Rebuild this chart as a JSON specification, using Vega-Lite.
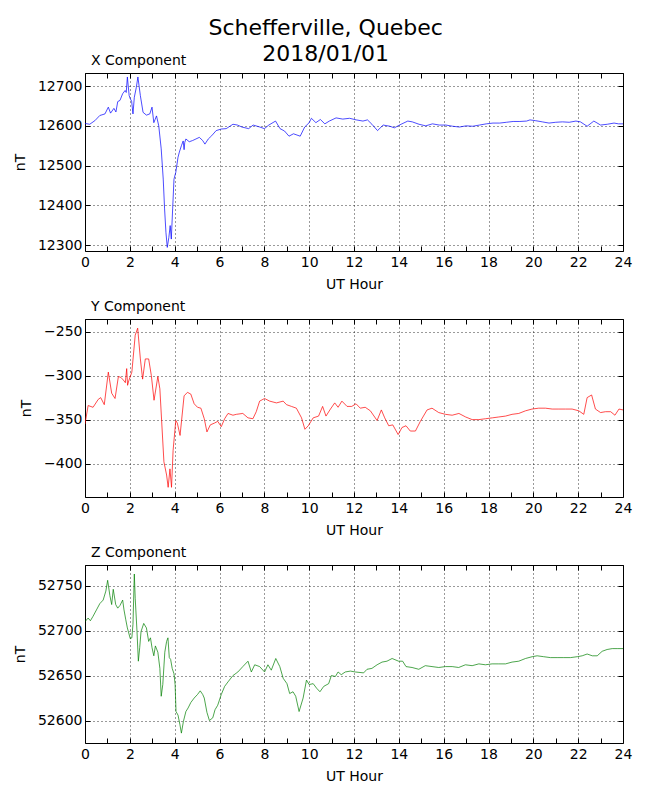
{
  "$schema": "https://vega.github.io/schema/vega-lite/v6.json",
  "padding": {"left": 12, "top": 17, "right": 10, "bottom": 5},
  "background": "white",
  "spacing": 7,
  "title": {
    "text": ["Schefferville, Quebec", "2018/01/01"],
    "fontSize": 22,
    "fontWeight": "normal",
    "lineHeight": 26,
    "anchor": "middle",
    "frame": "bounds",
    "dx": 3,
    "offset": -13,
    "color": "black"
  },
  "config": {
    "font": "DejaVu Sans",
    "view": {"stroke": "black", "strokeWidth": 1},
    "axis": {
      "labelFontSize": 14,
      "titleFontSize": 14,
      "titleFontWeight": "normal",
      "labelColor": "black",
      "titleColor": "black",
      "tickColor": "black",
      "tickSize": -5,
      "tickWidth": 1,
      "domain": false,
      "gridColor": "black",
      "gridDash": [1, 3],
      "gridWidth": 0.8,
      "labelFlush": false
    },
    "title": {"fontSize": 14, "fontWeight": "normal", "anchor": "start", "frame": "group", "dx": 6, "offset": 5, "color": "black"}
  },
  "datasets": {
    "xc": [
      {"h": 0, "v": 12606}, {"h": 0.21, "v": 12604}, {"h": 0.44, "v": 12613}, {"h": 0.66, "v": 12626},
      {"h": 0.89, "v": 12630}, {"h": 1.04, "v": 12647}, {"h": 1.14, "v": 12632}, {"h": 1.29, "v": 12644},
      {"h": 1.38, "v": 12635}, {"h": 1.46, "v": 12661}, {"h": 1.56, "v": 12664}, {"h": 1.68, "v": 12681},
      {"h": 1.79, "v": 12689}, {"h": 1.84, "v": 12684}, {"h": 1.89, "v": 12723}, {"h": 1.97, "v": 12676},
      {"h": 2.02, "v": 12668}, {"h": 2.08, "v": 12662}, {"h": 2.14, "v": 12630}, {"h": 2.2, "v": 12672},
      {"h": 2.29, "v": 12697}, {"h": 2.36, "v": 12723}, {"h": 2.47, "v": 12676}, {"h": 2.59, "v": 12634},
      {"h": 2.74, "v": 12627}, {"h": 2.89, "v": 12630}, {"h": 2.99, "v": 12647}, {"h": 3.07, "v": 12608},
      {"h": 3.19, "v": 12625}, {"h": 3.29, "v": 12600}, {"h": 3.4, "v": 12542}, {"h": 3.49, "v": 12466},
      {"h": 3.55, "v": 12391}, {"h": 3.61, "v": 12332}, {"h": 3.67, "v": 12294}, {"h": 3.74, "v": 12319},
      {"h": 3.8, "v": 12349}, {"h": 3.85, "v": 12315}, {"h": 3.91, "v": 12391}, {"h": 3.97, "v": 12466},
      {"h": 4.05, "v": 12483}, {"h": 4.15, "v": 12521}, {"h": 4.21, "v": 12534}, {"h": 4.3, "v": 12550},
      {"h": 4.38, "v": 12562}, {"h": 4.42, "v": 12540}, {"h": 4.45, "v": 12558}, {"h": 4.5, "v": 12567},
      {"h": 4.65, "v": 12560}, {"h": 4.8, "v": 12563}, {"h": 4.95, "v": 12567}, {"h": 5.1, "v": 12571},
      {"h": 5.25, "v": 12563}, {"h": 5.35, "v": 12554}, {"h": 5.5, "v": 12567}, {"h": 5.65, "v": 12575},
      {"h": 5.85, "v": 12588}, {"h": 6.08, "v": 12592}, {"h": 6.3, "v": 12593}, {"h": 6.6, "v": 12604},
      {"h": 6.8, "v": 12602}, {"h": 7.0, "v": 12597}, {"h": 7.3, "v": 12593}, {"h": 7.5, "v": 12602},
      {"h": 7.8, "v": 12597}, {"h": 8.0, "v": 12593}, {"h": 8.2, "v": 12602}, {"h": 8.5, "v": 12612},
      {"h": 8.7, "v": 12593}, {"h": 8.9, "v": 12587}, {"h": 9.1, "v": 12574}, {"h": 9.3, "v": 12580},
      {"h": 9.6, "v": 12574}, {"h": 9.8, "v": 12597}, {"h": 10.0, "v": 12608}, {"h": 10.1, "v": 12619},
      {"h": 10.3, "v": 12608}, {"h": 10.5, "v": 12616}, {"h": 10.7, "v": 12605}, {"h": 10.9, "v": 12612},
      {"h": 11.2, "v": 12620}, {"h": 11.5, "v": 12617}, {"h": 11.8, "v": 12619}, {"h": 12.1, "v": 12615},
      {"h": 12.4, "v": 12612}, {"h": 12.6, "v": 12615}, {"h": 12.8, "v": 12604}, {"h": 13.05, "v": 12588},
      {"h": 13.3, "v": 12602}, {"h": 13.6, "v": 12599}, {"h": 13.8, "v": 12595}, {"h": 14.1, "v": 12604},
      {"h": 14.4, "v": 12612}, {"h": 14.6, "v": 12610}, {"h": 14.9, "v": 12604}, {"h": 15.2, "v": 12600},
      {"h": 15.5, "v": 12605}, {"h": 15.8, "v": 12602}, {"h": 16.1, "v": 12602}, {"h": 16.4, "v": 12599},
      {"h": 16.7, "v": 12597}, {"h": 17.0, "v": 12600}, {"h": 17.3, "v": 12599}, {"h": 17.6, "v": 12602},
      {"h": 17.9, "v": 12605}, {"h": 18.2, "v": 12607}, {"h": 18.5, "v": 12607}, {"h": 18.8, "v": 12609},
      {"h": 19.1, "v": 12611}, {"h": 19.4, "v": 12611}, {"h": 19.7, "v": 12612}, {"h": 19.85, "v": 12615},
      {"h": 20.1, "v": 12613}, {"h": 20.4, "v": 12610}, {"h": 20.7, "v": 12607}, {"h": 21.0, "v": 12609},
      {"h": 21.3, "v": 12610}, {"h": 21.6, "v": 12609}, {"h": 21.9, "v": 12612}, {"h": 22.1, "v": 12610},
      {"h": 22.4, "v": 12599}, {"h": 22.7, "v": 12612}, {"h": 23.0, "v": 12602}, {"h": 23.3, "v": 12604},
      {"h": 23.6, "v": 12607}, {"h": 23.8, "v": 12605}, {"h": 24.0, "v": 12605}
    ],
    "yc": [
      {"h": 0, "v": -355}, {"h": 0.14, "v": -334}, {"h": 0.36, "v": -336}, {"h": 0.59, "v": -327},
      {"h": 0.7, "v": -325}, {"h": 0.86, "v": -333}, {"h": 1.04, "v": -296}, {"h": 1.19, "v": -320},
      {"h": 1.34, "v": -326}, {"h": 1.49, "v": -301}, {"h": 1.6, "v": -302}, {"h": 1.71, "v": -305},
      {"h": 1.8, "v": -308}, {"h": 1.86, "v": -292}, {"h": 1.9, "v": -311}, {"h": 1.95, "v": -306},
      {"h": 2.09, "v": -296}, {"h": 2.24, "v": -254}, {"h": 2.35, "v": -246}, {"h": 2.47, "v": -281},
      {"h": 2.57, "v": -304}, {"h": 2.69, "v": -281}, {"h": 2.84, "v": -281}, {"h": 2.96, "v": -300},
      {"h": 3.08, "v": -328}, {"h": 3.25, "v": -301}, {"h": 3.34, "v": -315}, {"h": 3.52, "v": -398},
      {"h": 3.64, "v": -413}, {"h": 3.71, "v": -427}, {"h": 3.79, "v": -406}, {"h": 3.86, "v": -427},
      {"h": 3.93, "v": -385}, {"h": 4.05, "v": -351}, {"h": 4.12, "v": -354}, {"h": 4.24, "v": -368},
      {"h": 4.42, "v": -323}, {"h": 4.57, "v": -319}, {"h": 4.72, "v": -321}, {"h": 4.87, "v": -332},
      {"h": 5.02, "v": -336}, {"h": 5.17, "v": -337}, {"h": 5.32, "v": -349}, {"h": 5.44, "v": -364},
      {"h": 5.59, "v": -356}, {"h": 5.77, "v": -354}, {"h": 5.92, "v": -352}, {"h": 6.08, "v": -358},
      {"h": 6.23, "v": -349}, {"h": 6.38, "v": -343}, {"h": 6.6, "v": -345}, {"h": 6.75, "v": -344},
      {"h": 7.04, "v": -343}, {"h": 7.27, "v": -348}, {"h": 7.49, "v": -349}, {"h": 7.64, "v": -341},
      {"h": 7.79, "v": -329}, {"h": 8.01, "v": -326}, {"h": 8.24, "v": -329}, {"h": 8.54, "v": -331},
      {"h": 8.84, "v": -329}, {"h": 8.99, "v": -333}, {"h": 9.21, "v": -335}, {"h": 9.43, "v": -337},
      {"h": 9.66, "v": -348}, {"h": 9.81, "v": -361}, {"h": 9.96, "v": -357}, {"h": 10.18, "v": -348},
      {"h": 10.42, "v": -346}, {"h": 10.6, "v": -335}, {"h": 10.75, "v": -346}, {"h": 10.95, "v": -338},
      {"h": 11.14, "v": -331}, {"h": 11.29, "v": -336}, {"h": 11.46, "v": -329}, {"h": 11.69, "v": -335},
      {"h": 11.9, "v": -335}, {"h": 12.09, "v": -332}, {"h": 12.28, "v": -337}, {"h": 12.5, "v": -336},
      {"h": 12.73, "v": -340}, {"h": 13.03, "v": -351}, {"h": 13.22, "v": -339}, {"h": 13.37, "v": -348},
      {"h": 13.55, "v": -357}, {"h": 13.73, "v": -356}, {"h": 13.97, "v": -367}, {"h": 14.14, "v": -359},
      {"h": 14.32, "v": -357}, {"h": 14.51, "v": -363}, {"h": 14.74, "v": -363}, {"h": 14.96, "v": -352},
      {"h": 15.26, "v": -339}, {"h": 15.48, "v": -337}, {"h": 15.78, "v": -342}, {"h": 16.08, "v": -344},
      {"h": 16.38, "v": -345}, {"h": 16.68, "v": -343}, {"h": 16.98, "v": -347}, {"h": 17.27, "v": -350},
      {"h": 17.57, "v": -350}, {"h": 17.87, "v": -349}, {"h": 18.17, "v": -348}, {"h": 18.46, "v": -347},
      {"h": 18.76, "v": -346}, {"h": 19.05, "v": -344}, {"h": 19.35, "v": -343}, {"h": 19.65, "v": -340},
      {"h": 19.94, "v": -338}, {"h": 20.24, "v": -337}, {"h": 20.54, "v": -337}, {"h": 20.84, "v": -338},
      {"h": 21.14, "v": -338}, {"h": 21.43, "v": -338}, {"h": 21.73, "v": -338}, {"h": 22.03, "v": -340},
      {"h": 22.25, "v": -344}, {"h": 22.4, "v": -325}, {"h": 22.6, "v": -322}, {"h": 22.77, "v": -338},
      {"h": 23.0, "v": -342}, {"h": 23.22, "v": -341}, {"h": 23.45, "v": -341}, {"h": 23.64, "v": -345},
      {"h": 23.82, "v": -338}, {"h": 24.0, "v": -339}
    ],
    "zc": [
      {"h": 0, "v": 52710}, {"h": 0.14, "v": 52714}, {"h": 0.24, "v": 52711}, {"h": 0.36, "v": 52716},
      {"h": 0.51, "v": 52723}, {"h": 0.66, "v": 52730}, {"h": 0.81, "v": 52734}, {"h": 0.93, "v": 52744},
      {"h": 1.01, "v": 52756}, {"h": 1.11, "v": 52739}, {"h": 1.19, "v": 52729}, {"h": 1.26, "v": 52746},
      {"h": 1.37, "v": 52729}, {"h": 1.46, "v": 52725}, {"h": 1.56, "v": 52728}, {"h": 1.68, "v": 52734},
      {"h": 1.74, "v": 52723}, {"h": 1.82, "v": 52712}, {"h": 1.89, "v": 52703}, {"h": 2.02, "v": 52691},
      {"h": 2.09, "v": 52692}, {"h": 2.14, "v": 52707}, {"h": 2.2, "v": 52763}, {"h": 2.24, "v": 52736},
      {"h": 2.32, "v": 52699}, {"h": 2.38, "v": 52666}, {"h": 2.44, "v": 52681}, {"h": 2.5, "v": 52699},
      {"h": 2.62, "v": 52708}, {"h": 2.74, "v": 52703}, {"h": 2.84, "v": 52688}, {"h": 2.92, "v": 52692},
      {"h": 2.99, "v": 52681}, {"h": 3.07, "v": 52672}, {"h": 3.14, "v": 52683}, {"h": 3.25, "v": 52676},
      {"h": 3.34, "v": 52658}, {"h": 3.4, "v": 52627}, {"h": 3.47, "v": 52640}, {"h": 3.56, "v": 52676},
      {"h": 3.64, "v": 52688}, {"h": 3.7, "v": 52692}, {"h": 3.76, "v": 52670}, {"h": 3.82, "v": 52668},
      {"h": 3.89, "v": 52658}, {"h": 3.97, "v": 52652}, {"h": 4.02, "v": 52640}, {"h": 4.06, "v": 52610},
      {"h": 4.15, "v": 52606}, {"h": 4.23, "v": 52596}, {"h": 4.3, "v": 52586}, {"h": 4.39, "v": 52599},
      {"h": 4.5, "v": 52610}, {"h": 4.6, "v": 52614}, {"h": 4.72, "v": 52620}, {"h": 4.87, "v": 52625},
      {"h": 5.02, "v": 52629}, {"h": 5.14, "v": 52633}, {"h": 5.25, "v": 52629}, {"h": 5.32, "v": 52625},
      {"h": 5.44, "v": 52609}, {"h": 5.55, "v": 52600}, {"h": 5.7, "v": 52603}, {"h": 5.8, "v": 52612},
      {"h": 5.92, "v": 52617}, {"h": 6.08, "v": 52629}, {"h": 6.23, "v": 52638}, {"h": 6.38, "v": 52643},
      {"h": 6.6, "v": 52650}, {"h": 6.82, "v": 52654}, {"h": 7.04, "v": 52660}, {"h": 7.27, "v": 52666},
      {"h": 7.42, "v": 52654}, {"h": 7.57, "v": 52662}, {"h": 7.79, "v": 52660}, {"h": 8.01, "v": 52654},
      {"h": 8.16, "v": 52662}, {"h": 8.31, "v": 52656}, {"h": 8.51, "v": 52669}, {"h": 8.69, "v": 52660},
      {"h": 8.84, "v": 52647}, {"h": 9.01, "v": 52641}, {"h": 9.13, "v": 52630}, {"h": 9.28, "v": 52632},
      {"h": 9.4, "v": 52627}, {"h": 9.55, "v": 52610}, {"h": 9.73, "v": 52625}, {"h": 9.88, "v": 52645},
      {"h": 10.0, "v": 52640}, {"h": 10.18, "v": 52641}, {"h": 10.33, "v": 52636}, {"h": 10.48, "v": 52632},
      {"h": 10.65, "v": 52638}, {"h": 10.87, "v": 52641}, {"h": 10.99, "v": 52650}, {"h": 11.17, "v": 52649},
      {"h": 11.29, "v": 52654}, {"h": 11.43, "v": 52651}, {"h": 11.61, "v": 52654}, {"h": 11.84, "v": 52655},
      {"h": 12.06, "v": 52654}, {"h": 12.43, "v": 52653}, {"h": 12.58, "v": 52657}, {"h": 12.8, "v": 52658},
      {"h": 13.03, "v": 52662}, {"h": 13.25, "v": 52665}, {"h": 13.47, "v": 52666}, {"h": 13.7, "v": 52669},
      {"h": 13.99, "v": 52666}, {"h": 14.17, "v": 52666}, {"h": 14.32, "v": 52660}, {"h": 14.59, "v": 52659},
      {"h": 14.89, "v": 52657}, {"h": 15.18, "v": 52661}, {"h": 15.48, "v": 52660}, {"h": 15.78, "v": 52659},
      {"h": 16.08, "v": 52660}, {"h": 16.38, "v": 52660}, {"h": 16.67, "v": 52659}, {"h": 16.97, "v": 52662},
      {"h": 17.27, "v": 52661}, {"h": 17.57, "v": 52663}, {"h": 17.86, "v": 52662}, {"h": 18.16, "v": 52663},
      {"h": 18.46, "v": 52663}, {"h": 18.76, "v": 52663}, {"h": 19.05, "v": 52665}, {"h": 19.35, "v": 52666},
      {"h": 19.65, "v": 52669}, {"h": 19.95, "v": 52671}, {"h": 20.17, "v": 52672}, {"h": 20.46, "v": 52671},
      {"h": 20.76, "v": 52670}, {"h": 21.06, "v": 52670}, {"h": 21.36, "v": 52670}, {"h": 21.66, "v": 52670},
      {"h": 21.96, "v": 52671}, {"h": 22.18, "v": 52672}, {"h": 22.4, "v": 52674}, {"h": 22.63, "v": 52672},
      {"h": 22.85, "v": 52672}, {"h": 23.07, "v": 52677}, {"h": 23.29, "v": 52679}, {"h": 23.52, "v": 52680},
      {"h": 23.74, "v": 52680}, {"h": 24.0, "v": 52680}
    ]
  },
  "vconcat": [
    {
      "title": "X Component",
      "width": 538,
      "height": 178,
      "data": {"name": "xc"},
      "layer": [
        {
          "mark": {"type": "line", "color": "#0000ff", "strokeWidth": 0.7, "clip": true},
          "encoding": {
            "x": {"field": "h", "type": "quantitative", "scale": {"domain": [0, 24], "nice": false},
              "axis": {"title": "UT Hour", "values": [0,1,2,3,4,5,6,7,8,9,10,11,12,13,14,15,16,17,18,19,20,21,22,23,24],
                "labelExpr": "datum.value % 2 === 0 ? datum.label : ''", "labelPadding": 9, "titlePadding": 8,
                "gridOpacity": {"condition": {"test": "datum.value % 2 === 0", "value": 1}, "value": 0}}},
            "y": {"field": "v", "type": "quantitative", "scale": {"domain": [12285, 12733], "nice": false, "zero": false},
              "axis": {"title": "nT", "values": [12300, 12400, 12500, 12600, 12700], "format": "d", "labelPadding": 8, "titlePadding": 10}}
          }
        },
        {
          "mark": {"type": "line", "opacity": 0},
          "encoding": {
            "x": {"field": "h", "type": "quantitative",
              "axis": {"orient": "top", "title": null, "labels": false, "grid": false, "values": [0,1,2,3,4,5,6,7,8,9,10,11,12,13,14,15,16,17,18,19,20,21,22,23,24]}},
            "y": {"field": "v", "type": "quantitative",
              "axis": {"orient": "right", "title": null, "labels": false, "grid": false, "values": [12300, 12400, 12500, 12600, 12700]}}
          }
        }
      ],
      "resolve": {"axis": {"x": "independent", "y": "independent"}}
    },
    {
      "title": "Y Component",
      "width": 538,
      "height": 178,
      "data": {"name": "yc"},
      "layer": [
        {
          "mark": {"type": "line", "color": "#ff0000", "strokeWidth": 0.7, "clip": true},
          "encoding": {
            "x": {"field": "h", "type": "quantitative", "scale": {"domain": [0, 24], "nice": false},
              "axis": {"title": "UT Hour", "values": [0,1,2,3,4,5,6,7,8,9,10,11,12,13,14,15,16,17,18,19,20,21,22,23,24],
                "labelExpr": "datum.value % 2 === 0 ? datum.label : ''", "labelPadding": 9, "titlePadding": 8,
                "gridOpacity": {"condition": {"test": "datum.value % 2 === 0", "value": 1}, "value": 0}}},
            "y": {"field": "v", "type": "quantitative", "scale": {"domain": [-438, -235.6], "nice": false, "zero": false},
              "axis": {"title": "nT", "values": [-400, -350, -300, -250], "format": "d", "labelPadding": 8, "titlePadding": 10}}
          }
        },
        {
          "mark": {"type": "line", "opacity": 0},
          "encoding": {
            "x": {"field": "h", "type": "quantitative",
              "axis": {"orient": "top", "title": null, "labels": false, "grid": false, "values": [0,1,2,3,4,5,6,7,8,9,10,11,12,13,14,15,16,17,18,19,20,21,22,23,24]}},
            "y": {"field": "v", "type": "quantitative",
              "axis": {"orient": "right", "title": null, "labels": false, "grid": false, "values": [-400, -350, -300, -250]}}
          }
        }
      ],
      "resolve": {"axis": {"x": "independent", "y": "independent"}}
    },
    {
      "title": "Z Component",
      "width": 538,
      "height": 178,
      "data": {"name": "zc"},
      "layer": [
        {
          "mark": {"type": "line", "color": "#008000", "strokeWidth": 0.7, "clip": true},
          "encoding": {
            "x": {"field": "h", "type": "quantitative", "scale": {"domain": [0, 24], "nice": false},
              "axis": {"title": "UT Hour", "values": [0,1,2,3,4,5,6,7,8,9,10,11,12,13,14,15,16,17,18,19,20,21,22,23,24],
                "labelExpr": "datum.value % 2 === 0 ? datum.label : ''", "labelPadding": 9, "titlePadding": 8,
                "gridOpacity": {"condition": {"test": "datum.value % 2 === 0", "value": 1}, "value": 0}}},
            "y": {"field": "v", "type": "quantitative", "scale": {"domain": [52575, 52773], "nice": false, "zero": false},
              "axis": {"title": "nT", "values": [52600, 52650, 52700, 52750], "format": "d", "labelPadding": 8, "titlePadding": 10}}
          }
        },
        {
          "mark": {"type": "line", "opacity": 0},
          "encoding": {
            "x": {"field": "h", "type": "quantitative",
              "axis": {"orient": "top", "title": null, "labels": false, "grid": false, "values": [0,1,2,3,4,5,6,7,8,9,10,11,12,13,14,15,16,17,18,19,20,21,22,23,24]}},
            "y": {"field": "v", "type": "quantitative",
              "axis": {"orient": "right", "title": null, "labels": false, "grid": false, "values": [52600, 52650, 52700, 52750]}}
          }
        }
      ],
      "resolve": {"axis": {"x": "independent", "y": "independent"}}
    }
  ]
}
